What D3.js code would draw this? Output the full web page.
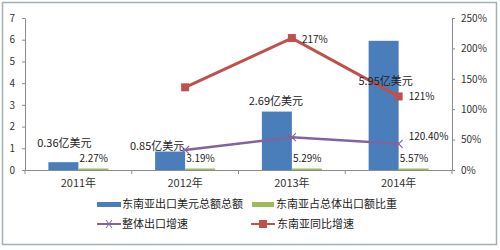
<!DOCTYPE html>
<html>
<head>
<meta charset="utf-8">
<script src="https://cdn.jsdelivr.net/npm/d3@7"></script>
<style>
  body { margin: 0; background: #fff; }
  text { font-family: "Noto Sans CJK SC", "DejaVu Sans", sans-serif; }
</style>
</head>
<body>
<svg id="chart" width="500" height="250"></svg>
<script>
// data
var years = ["2011年", "2012年", "2013年", "2014年"];
var exportValue = [0.36, 0.85, 2.69, 5.95];          // 亿美元, left axis
var exportShare = [0.0227, 0.0319, 0.0529, 0.0557];  // share, left axis (tiny)
var totalGrowth = [null, 33, 54, 43];                // %, right axis
var seaGrowth = [null, 136, 217, 121];               // %, right axis
var valueLabels = ["0.36亿美元", "0.85亿美元", "2.69亿美元", "5.95亿美元"];
var shareLabels = ["2.27%", "3.19%", "5.29%", "5.57%"];
var leftTicks = [0, 1, 2, 3, 4, 5, 6, 7];
var rightTicks = [0, 50, 100, 150, 200, 250];

var svg = d3.select("#chart");
var blue = "#4a7ebb", green = "#9bbb59", purple = "#8064a2", red = "#c0504d";

// frame
svg.append("rect").attr("x", 2.5).attr("y", 2.5).attr("width", 494).attr("height", 242)
    .attr("fill", "none").attr("stroke", "#a3b0b3").attr("stroke-width", 1.5);

var mLeft = 25, mRight = 452, mTop = 18, mBottom = 170;

var x = d3.scaleBand().domain(years).range([mLeft, mRight]);
var sub = d3.scaleBand().domain(["v", "s"]).range([-30, 30]);
var y = d3.scaleLinear().domain([0, 7]).range([mBottom, mTop]);
var y2 = d3.scaleLinear().domain([0, 250]).range([mBottom, mTop]);
var cx = function(i) { return x(years[i]) + x.bandwidth() / 2; };

// axes
var axL = svg.append("g").attr("transform", "translate(" + mLeft + ",0)")
    .call(d3.axisLeft(y).tickValues(leftTicks).tickSize(3).tickPadding(7)
        .tickFormat(d3.format("d")));
var axR = svg.append("g").attr("transform", "translate(" + mRight + ",0)")
    .call(d3.axisRight(y2).tickValues(rightTicks).tickSize(3).tickPadding(6)
        .tickFormat(function(d) { return d + "%"; }));
var axX = svg.append("g").attr("transform", "translate(0," + mBottom + ")")
    .call(d3.axisBottom(x).tickSize(0).tickPadding(9));
// x axis ticks on category boundaries
svg.append("g").selectAll("line")
    .data(d3.range(years.length + 1))
    .enter().append("line")
    .attr("x1", function(i) { return mLeft + i * x.bandwidth(); })
    .attr("x2", function(i) { return mLeft + i * x.bandwidth(); })
    .attr("y1", mBottom).attr("y2", mBottom + 4)
    .attr("stroke", "#8c8c8c");

[axL, axR, axX].forEach(function(g) {
    g.selectAll("path").attr("stroke", "#8c8c8c");
    g.selectAll("line").attr("stroke", "#8c8c8c");
    g.selectAll("text").attr("fill", "#333").style("font-size", "10px");
});
axX.selectAll("text").style("font-size", "11px");

// bars
svg.append("g").selectAll("rect")
    .data(exportValue)
    .enter().append("rect")
    .attr("x", function(d, i) { return cx(i) + sub("v"); })
    .attr("width", sub.bandwidth())
    .attr("y", function(d) { return y(d); })
    .attr("height", function(d) { return mBottom - y(d); })
    .attr("fill", blue);

svg.append("g").selectAll("rect")
    .data(exportShare)
    .enter().append("rect")
    .attr("x", function(d, i) { return cx(i) + sub("s"); })
    .attr("width", sub.bandwidth())
    .attr("y", function(d) { return Math.min(y(d), mBottom - 1.5); })
    .attr("height", function(d) { return Math.max(mBottom - y(d), 1.5); })
    .attr("fill", green);

// lines
function drawLine(values, color, w) {
    var pts = values.map(function(d, i) { return [cx(i), d]; })
        .filter(function(p) { return p[1] != null; });
    svg.append("path")
        .datum(pts)
        .attr("d", d3.line().x(function(p) { return p[0]; }).y(function(p) { return y2(p[1]); }))
        .attr("fill", "none").attr("stroke", color).attr("stroke-width", w);
    return pts;
}

var pPts = drawLine(totalGrowth, purple, 2.5);
svg.append("g").selectAll("path")
    .data(pPts)
    .enter().append("path")
    .attr("d", function(p) {
        var px = p[0], py = y2(p[1]), s = 4;
        return "M" + (px - s) + "," + (py - s) + "L" + (px + s) + "," + (py + s) +
            "M" + (px - s) + "," + (py + s) + "L" + (px + s) + "," + (py - s);
    })
    .attr("stroke", purple).attr("stroke-width", 1.2).attr("fill", "none");

var rPts = drawLine(seaGrowth, red, 3);
svg.append("g").selectAll("rect")
    .data(rPts)
    .enter().append("rect")
    .attr("x", function(p) { return p[0] - 4; })
    .attr("y", function(p) { return y2(p[1]) - 4; })
    .attr("width", 8).attr("height", 8)
    .attr("fill", red);

// data labels (hand-placed in the original, offsets relative to bar top)
var labelDx = [-14, -28, -16, -13];
var labelDy = [-15, -2, -7, 44];
var lbl = svg.append("g").attr("fill", "#222").style("font-size", "11px");
lbl.selectAll(".v")
    .data(exportValue)
    .enter().append("text")
    .attr("x", function(d, i) { return cx(i) + labelDx[i]; })
    .attr("y", function(d, i) { return y(d) + labelDy[i]; })
    .attr("text-anchor", "middle")
    .text(function(d, i) { return valueLabels[i]; });

lbl.selectAll(".s")
    .data(exportShare)
    .enter().append("text")
    .attr("x", function(d, i) { return cx(i) + 1; })
    .attr("y", 162)
    .style("font-size", "10px")
    .text(function(d, i) { return shareLabels[i]; });

lbl.append("text").attr("x", cx(2) + 10).attr("y", y2(217) + 5)
    .style("font-size", "10px").text("217%");
lbl.append("text").attr("x", cx(3) + 10).attr("y", y2(121) + 4)
    .style("font-size", "10px").text("121%");
lbl.append("text").attr("x", cx(3) + 10).attr("y", y2(43) - 4)
    .style("font-size", "10px").text("120.40%");

// legend
var lg = svg.append("g").style("font-size", "11px").attr("fill", "#222");
lg.append("rect").attr("x", 97).attr("y", 202).attr("width", 24).attr("height", 5).attr("fill", blue);
lg.append("text").attr("x", 122).attr("y", 208).text("东南亚出口美元总额总额");
lg.append("rect").attr("x", 252).attr("y", 202).attr("width", 22).attr("height", 5).attr("fill", green);
lg.append("text").attr("x", 276).attr("y", 208).text("东南亚占总体出口额比重");

lg.append("line").attr("x1", 97).attr("x2", 121).attr("y1", 224).attr("y2", 224)
    .attr("stroke", purple).attr("stroke-width", 2);
lg.append("path").attr("d", "M106,220L112,228M106,228L112,220")
    .attr("stroke", purple).attr("stroke-width", 1);
lg.append("text").attr("x", 122).attr("y", 228).text("整体出口增速");
lg.append("line").attr("x1", 251).attr("x2", 275).attr("y1", 224).attr("y2", 224)
    .attr("stroke", red).attr("stroke-width", 2);
lg.append("rect").attr("x", 259).attr("y", 220).attr("width", 8).attr("height", 8).attr("fill", red);
lg.append("text").attr("x", 277).attr("y", 228).text("东南亚同比增速");
</script>
</body>
</html>
